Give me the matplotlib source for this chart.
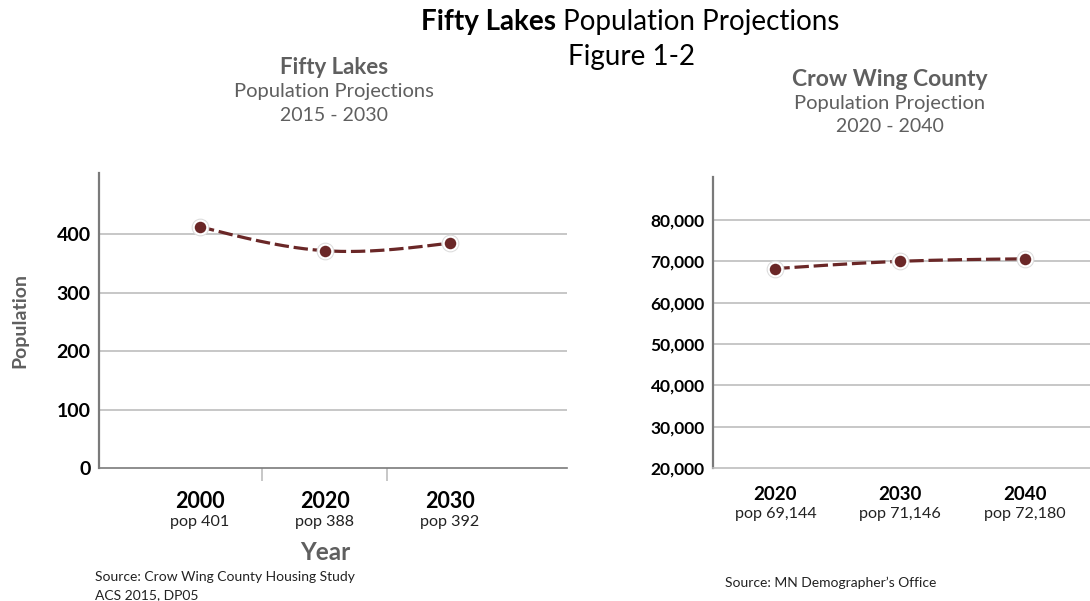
import numpy as np
import matplotlib
matplotlib.use("Agg")
import matplotlib.pyplot as plt
import matplotlib.transforms as mtransforms

plt.rcParams['font.family'] = ['Lato', 'DejaVu Sans']

# ---- data ----
left_years = ["2000", "2020", "2030"]
left_pop_labels = ["pop 401", "pop 388", "pop 392"]
left_values = [413, 372, 385]
left_yticks = [0, 100, 200, 300, 400]

right_years = ["2020", "2030", "2040"]
right_pop_labels = ["pop 69,144", "pop 71,146", "pop 72,180"]
right_values = [68200, 69950, 70550]
right_yticks = [20000, 30000, 40000, 50000, 60000, 70000, 80000]

LINE_COLOR = "#6a2727"
GRID_COLOR = "#bdbdbd"
SPINE_COLOR = "#7a7a7a"
GRAY_TEXT = "#5f5f5f"


def natural_spline(xs, ys, n=80):
    xs = np.asarray(xs, float)
    ys = np.asarray(ys, float)
    k = len(xs)
    h = np.diff(xs)
    A = np.zeros((k, k))
    b = np.zeros(k)
    A[0, 0] = A[-1, -1] = 1
    for i in range(1, k - 1):
        A[i, i - 1] = h[i - 1]
        A[i, i] = 2 * (h[i - 1] + h[i])
        A[i, i + 1] = h[i]
        b[i] = 6 * ((ys[i + 1] - ys[i]) / h[i] - (ys[i] - ys[i - 1]) / h[i - 1])
    M = np.linalg.solve(A, b)
    out_x, out_y = [], []
    for i in range(k - 1):
        t = np.linspace(xs[i], xs[i + 1], n)
        a = xs[i + 1] - t
        c = t - xs[i]
        y = (M[i] * a**3 + M[i + 1] * c**3) / (6 * h[i]) \
            + (ys[i] / h[i] - M[i] * h[i] / 6) * a \
            + (ys[i + 1] / h[i] - M[i + 1] * h[i] / 6) * c
        out_x.extend(t)
        out_y.extend(y)
    return np.array(out_x), np.array(out_y)


def draw_series(ax, values):
    x = np.arange(len(values))
    cx, cy = natural_spline(x, values)
    ax.plot(cx, cy, color=LINE_COLOR, lw=2.3, dashes=(4.5, 1.5),
            dash_capstyle='butt', zorder=3)
    ax.plot(x, values, 'o', ms=12, mfc='white', mec='#dddddd', mew=0.8, zorder=4)
    ax.plot(x, values, 'o', ms=9.5, mfc=LINE_COLOR, mec='white', mew=1.2, zorder=5)


fig = plt.figure(figsize=(10.90, 6.01), dpi=100)

# ---- left panel ----
axL = fig.add_axes([0.0908, 0.2213, 0.5202 - 0.0908, 0.7121 - 0.2213])
axL.set_xlim(-0.81, 2.94)
axL.set_ylim(0, 505)
axL.set_yticks(left_yticks)
axL.set_yticklabels([str(v) for v in left_yticks], fontsize=14, fontweight='bold', color='black')
axL.tick_params(axis='y', length=0, pad=6)
axL.set_xticks([])
axL.set_xticks([0.5, 1.5], minor=True)
axL.tick_params(axis='x', which='minor', length=9, color=GRID_COLOR, width=1.2)
for s in ['top', 'right']:
    axL.spines[s].set_visible(False)
axL.spines['left'].set_color(SPINE_COLOR)
axL.spines['left'].set_linewidth(1.6)
axL.spines['bottom'].set_color(SPINE_COLOR)
axL.spines['bottom'].set_linewidth(1.2)
for v in left_yticks[1:]:
    axL.axhline(v, color=GRID_COLOR, lw=1.2, zorder=1)
draw_series(axL, left_values)
trL = mtransforms.blended_transform_factory(axL.transData, fig.transFigure)
for i, (yr, pl) in enumerate(zip(left_years, left_pop_labels)):
    axL.text(i, 1 - 502 / 601, yr, transform=trL, ha='center', va='center',
             fontsize=15.5, fontweight='bold', color='black')
    axL.text(i, 1 - 522 / 601, pl, transform=trL, ha='center', va='center',
             fontsize=11.6, color='#222222')
axL.set_ylabel("Population", fontsize=14, fontweight='bold', color=GRAY_TEXT)
axL.yaxis.set_label_coords(-0.15, 0.5)
fig.text(325 / 1090, 1 - 552 / 601, "Year", ha='center', va='center',
         fontsize=17.5, fontweight='bold', color=GRAY_TEXT)
fig.text(95 / 1090, 1 - 577 / 601, "Source: Crow Wing County Housing Study",
         ha='left', va='center', fontsize=10, color='#222222')
fig.text(95 / 1090, 1 - 595 / 601, "ACS 2015, DP05",
         ha='left', va='center', fontsize=10, color='#222222')

# ---- right panel ----
axR = fig.add_axes([0.6541, 0.2208, 1.0 - 0.6541, 0.7055 - 0.2208])
axR.set_xlim(-0.5, 2.52)
axR.set_ylim(20000, 90300)
axR.set_yticks(right_yticks)
axR.set_yticklabels([f"{v:,}" for v in right_yticks], fontsize=12.5, fontweight='bold', color='black')
axR.tick_params(axis='y', length=0, pad=6)
axR.set_xticks([])
for s in ['top', 'right']:
    axR.spines[s].set_visible(False)
axR.spines['left'].set_color(SPINE_COLOR)
axR.spines['left'].set_linewidth(1.6)
axR.spines['bottom'].set_color(GRID_COLOR)
axR.spines['bottom'].set_linewidth(1.2)
for v in right_yticks[1:]:
    axR.axhline(v, color=GRID_COLOR, lw=1.2, zorder=1)
draw_series(axR, right_values)
trR = mtransforms.blended_transform_factory(axR.transData, fig.transFigure)
for i, (yr, pl) in enumerate(zip(right_years, right_pop_labels)):
    axR.text(i, 1 - 494 / 601, yr, transform=trR, ha='center', va='center',
             fontsize=13.5, fontweight='bold', color='black')
    axR.text(i, 1 - 514 / 601, pl, transform=trR, ha='center', va='center',
             fontsize=11.6, color='#222222')
fig.text(725 / 1090, 1 - 583 / 601, "Source: MN Demographer\u2019s Office",
         ha='left', va='center', fontsize=10, color='#222222')

# ---- titles ----
t1 = fig.text(0, 1 - 22 / 601, "Fifty Lakes", ha='left', va='center',
              fontsize=20, fontweight='bold', color='black')
t2 = fig.text(0, 1 - 22 / 601, " Population Projections", ha='left', va='center',
              fontsize=20, color='black')
fig.canvas.draw()
r = fig.canvas.get_renderer()
w1 = t1.get_window_extent(r).width
w2 = t2.get_window_extent(r).width
start = 630 - (w1 + w2) / 2
t1.set_x(start / 1090)
t2.set_x((start + w1) / 1090)
fig.text(632 / 1090, 1 - 57 / 601, "Figure 1-2", ha='center', va='center',
         fontsize=20, color='black')

fig.text(334 / 1090, 1 - 68 / 601, "Fifty Lakes", ha='center', va='center',
         fontsize=16, fontweight='bold', color=GRAY_TEXT)
fig.text(334 / 1090, 1 - 92 / 601, "Population Projections", ha='center', va='center',
         fontsize=14.5, color=GRAY_TEXT)
fig.text(334 / 1090, 1 - 115 / 601, "2015 - 2030", ha='center', va='center',
         fontsize=14, color=GRAY_TEXT)

fig.text(890 / 1090, 1 - 80 / 601, "Crow Wing County", ha='center', va='center',
         fontsize=16.5, fontweight='bold', color=GRAY_TEXT)
fig.text(890 / 1090, 1 - 103 / 601, "Population Projection", ha='center', va='center',
         fontsize=14.5, color=GRAY_TEXT)
fig.text(890 / 1090, 1 - 127 / 601, "2020 - 2040", ha='center', va='center',
         fontsize=14, color=GRAY_TEXT)

fig.savefig("out.png", dpi=100, facecolor='white')
